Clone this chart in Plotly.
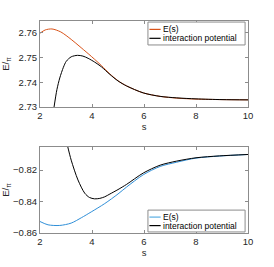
import plotly.graph_objects as go
from plotly.subplots import make_subplots

# Top panel data
s_top_E = [2.0, 2.2, 2.46, 2.8, 3.2, 3.5, 3.85, 4.1, 4.36, 4.69, 5.0, 5.33, 5.97, 6.62, 7.26, 8.0, 9.0, 10.0]
E_top = [2.7597, 2.7610, 2.7614, 2.7602, 2.7572, 2.7546, 2.7515, 2.7492, 2.7467, 2.7433, 2.7406, 2.7385, 2.7357, 2.7343, 2.7336, 2.7332, 2.7330, 2.7329]
s_top_V = [2.54, 2.65, 2.76, 2.9, 3.01, 3.2, 3.44, 3.65, 3.85, 4.1, 4.36, 4.69, 5.0, 5.33, 5.97, 6.62, 7.26, 8.0, 9.0, 10.0]
V_top = [2.7300, 2.7370, 2.7417, 2.7460, 2.7484, 2.7502, 2.7508, 2.7505, 2.7496, 2.7481, 2.7462, 2.7431, 2.7405, 2.7385, 2.7357, 2.7343, 2.7337, 2.7333, 2.7330, 2.7329]

# Bottom panel data
s_bot_E = [2.0, 2.31, 2.76, 3.2, 3.59, 3.97, 4.49, 5.0, 5.33, 5.97, 6.62, 7.26, 8.0, 8.9, 10.0]
E_bot = [-0.8527, -0.8548, -0.8552, -0.8537, -0.8503, -0.8466, -0.8413, -0.8352, -0.8308, -0.8230, -0.8177, -0.8150, -0.8124, -0.8111, -0.8101]
s_bot_V = [3.05, 3.2, 3.46, 3.72, 3.9, 4.1, 4.3, 4.49, 4.69, 5.0, 5.33, 5.97, 6.62, 7.26, 8.0, 8.9, 10.0]
V_bot = [-0.8040, -0.8137, -0.8263, -0.8347, -0.8374, -0.8383, -0.8380, -0.8370, -0.8352, -0.8324, -0.8291, -0.8219, -0.8169, -0.8143, -0.8122, -0.8110, -0.8101]

x_ticks = [2, 4, 6, 8, 10]
top_yticks = [2.73, 2.74, 2.75, 2.76]
bot_yticks = [-0.86, -0.84, -0.82]
legend_labels = ["E(s)", "interaction potential"]

ORANGE = "#D95319"
BLUE = "#2F8FD8"
BLACK = "#000000"
AXC = "#8c8c8c"
TXT = "#262626"
FONT = "Liberation Sans, Arial"

fig = make_subplots(rows=2, cols=1)

fig.add_trace(go.Scatter(x=s_top_E, y=E_top, mode="lines", line=dict(color=ORANGE, width=1, shape="spline", smoothing=0.8),
                         name=legend_labels[0], showlegend=False), row=1, col=1)
fig.add_trace(go.Scatter(x=s_top_V, y=V_top, mode="lines", line=dict(color=BLACK, width=1, shape="spline", smoothing=0.8),
                         name=legend_labels[1], showlegend=False), row=1, col=1)
fig.add_trace(go.Scatter(x=s_bot_E, y=E_bot, mode="lines", line=dict(color=BLUE, width=1, shape="spline", smoothing=0.8),
                         name=legend_labels[0], showlegend=False), row=2, col=1)
fig.add_trace(go.Scatter(x=s_bot_V, y=V_bot, mode="lines", line=dict(color=BLACK, width=1, shape="spline", smoothing=0.8),
                         name=legend_labels[1], showlegend=False), row=2, col=1)

axis_common = dict(showline=True, linecolor=AXC, linewidth=1, mirror="ticks", ticks="inside",
                   ticklen=3, tickcolor=AXC, showgrid=False, zeroline=False, automargin=False,
                   tickfont=dict(family=FONT, size=9.5, color=TXT))

fig.update_xaxes(**axis_common, range=[2, 10], tickvals=x_ticks,
                 title=dict(text="s", font=dict(family=FONT, size=9.5, color=TXT), standoff=0))
fig.update_yaxes(**axis_common,
                 title=dict(text="E/<sub>π</sub>", font=dict(family=FONT, size=9.5, color=TXT), standoff=12))

fig.update_yaxes(range=[2.73, 2.7646], tickvals=top_yticks, tickformat=".2f", row=1, col=1)
fig.update_yaxes(range=[-0.86, -0.8053], tickvals=bot_yticks, tickformat=".2f", row=2, col=1)

fig.update_layout(
    xaxis=dict(domain=[0, 1]), xaxis2=dict(domain=[0, 1]),
    yaxis=dict(domain=[0.594, 1.0]), yaxis2=dict(domain=[0.0, 0.406]),
)

# Hand-built MATLAB-style legends (paper coordinates)
def add_legend(y_top, y_bot, colors):
    fig.add_shape(type="rect", xref="paper", yref="paper", x0=0.519, x1=0.986, y0=y_bot, y1=y_top,
                  line=dict(color=AXC, width=1), fillcolor="white", layer="above")
    h = y_top - y_bot
    rows = [y_top - 0.32 * h, y_top - 0.71 * h]
    for label, col, yy in zip(legend_labels, colors, rows):
        fig.add_shape(type="line", xref="paper", yref="paper", x0=0.526, x1=0.580, y0=yy, y1=yy,
                      line=dict(color=col, width=1.2), layer="above")
        fig.add_annotation(xref="paper", yref="paper", x=0.582, y=yy, text=label, showarrow=False,
                           xanchor="left", yanchor="middle", font=dict(family=FONT, size=8.5, color="#000000"))

add_legend(0.995, 0.887, [ORANGE, BLACK])
add_legend(0.108, 0.005, ["#5AAEE3", BLACK])

fig.update_layout(
    width=274, height=267,
    margin=dict(l=40, r=26, t=21, b=34),
    paper_bgcolor="white", plot_bgcolor="white",
    showlegend=False,
)

# Remove the browser's default body margin so the figure starts at the window's corner.
fig.write_html("out.html", config={"displayModeBar": False},
               post_script="document.body.style.margin='0';document.body.style.overflow='hidden';")
